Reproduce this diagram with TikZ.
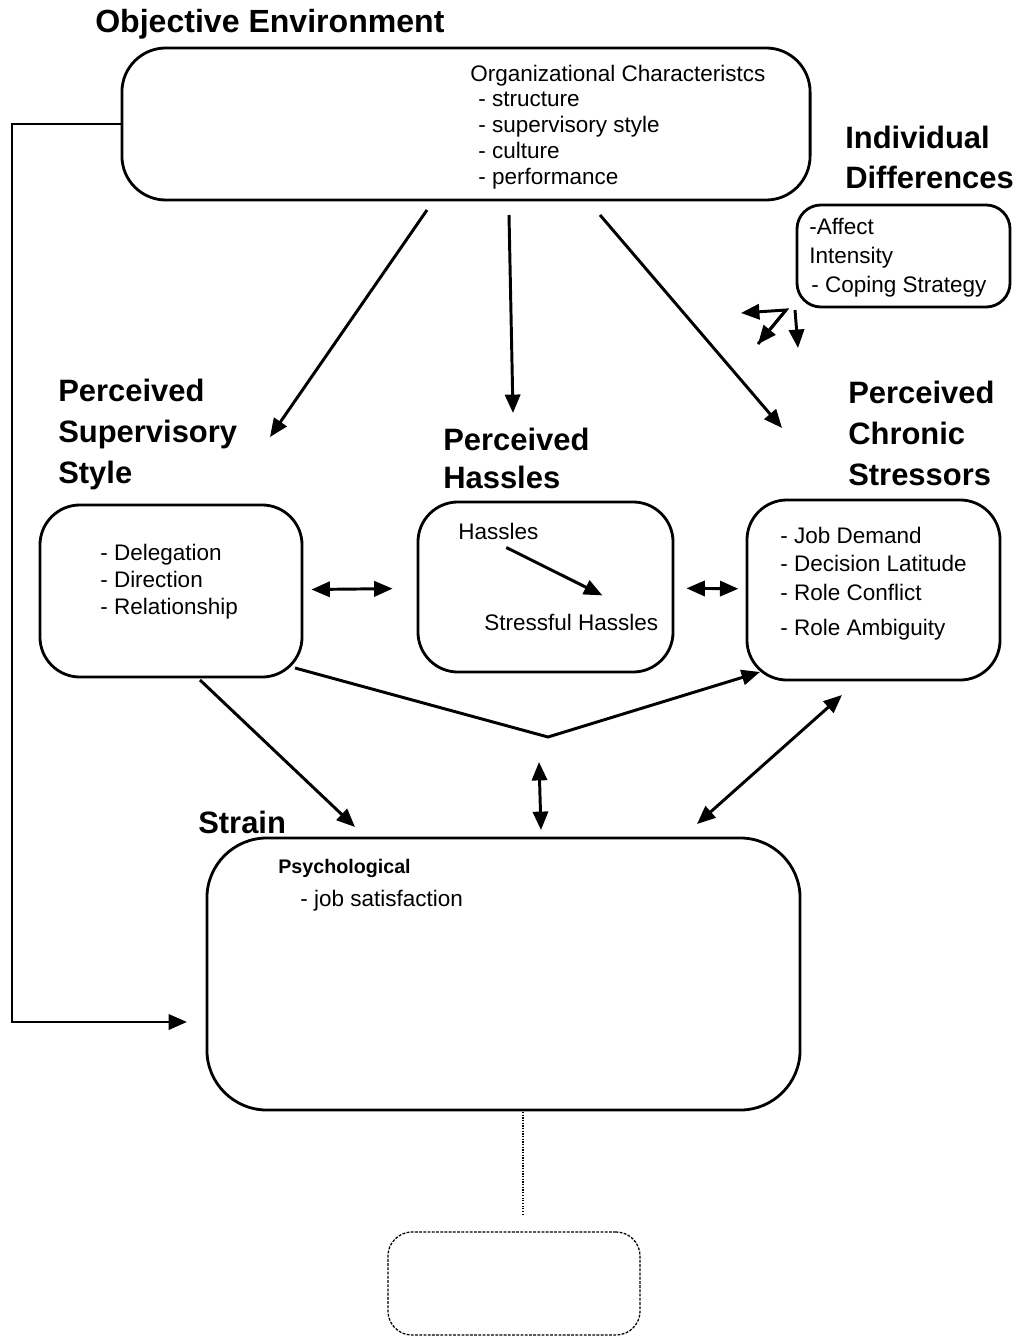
\documentclass[tikz,border=0pt]{standalone}
\usepackage{fontspec}
\setmainfont{Liberation Sans}
\usetikzlibrary{arrows.meta,calc}
\tikzset{
  >={Triangle[length=4.6mm,width=3.8mm]},
  box/.style={draw,line width=2pt,rounded corners=#1,inner sep=0pt},
  box/.default=1cm,
  title/.style={anchor=base west,inner sep=0pt,font=\fontsize{22}{26}\selectfont\bfseries},
  item/.style={anchor=base west,inner sep=0pt,font=\fontsize{16}{19}\selectfont},
  flow/.style={->,line width=2.1pt},
  twoway/.style={<->,line width=2.1pt},
}

\begin{document}
\begin{tikzpicture}[x=0.025cm,y=-0.025cm]
  \useasboundingbox (0,0) rectangle (1027,1338);
  % boxes
  \node[box=1.1cm,minimum width=17.2cm,minimum height=3.8cm] (objenv) at (466,124) {};
  \node[box=0.6cm,minimum width=5.325cm,minimum height=2.55cm] (indiv) at (903.5,256) {};
  \node[box,minimum width=6.55cm,minimum height=4.3cm] (sup) at (171,591) {};
  \node[box,minimum width=6.375cm,minimum height=4.25cm] (has) at (545.5,587) {};
  \node[box,minimum width=6.325cm,minimum height=4.5cm] (chr) at (873.5,590) {};
  \node[box=1.5cm,minimum width=14.825cm,minimum height=6.8cm] (strain) at (503.5,974) {};
  \node[box=0.6cm,densely dotted,line width=0.9pt,minimum width=6.3cm,minimum height=2.575cm] (next) at (514,1283.5) {};
  % titles
  \node[title,font=\fontsize{22.8}{26}\selectfont\bfseries] (tobj) at (95,33) {Objective Environment};
  \node[title] (tind1) at (845,149) {Individual};
  \node[title] (tind2) at (845,189) {Differences};
  \foreach \t [count=\i] in {Perceived,Supervisory,Style}
    \node[title] (tsup\i) at (58,{360+41*\i}) {\t};
  \foreach \t [count=\i] in {Perceived,Hassles}
    \node[title] (thas\i) at (443,{412+38*\i}) {\t};
  \foreach \t [count=\i] in {Perceived,Chronic,Stressors}
    \node[title] (tchr\i) at (848,{362+41*\i}) {\t};
  \node[title] (tstr) at (198,833) {Strain};
  % contents
  \node[item] (oc) at (470,82) {Organizational Characteristcs};
  \foreach \t [count=\i] in {structure,supervisory style,culture,performance}
    \node[item] (oc\i) at (478,{81+26*\i}) {- \t};
  \node[item] (id1) at (809,235) {-Affect};
  \node[item] (id2) at (809,264) {Intensity};
  \node[item] (id3) at (811,293) {- Coping Strategy};
  \foreach \t [count=\i] in {Delegation,Direction,Relationship}
    \node[item] (ps\i) at (100,{533+27*\i}) {- \t};
  \node[item] (hs1) at (458,539) {Hassles};
  \node[item] (hs2) at (484,630) {Stressful Hassles};
  \node[item] (cs1) at (780,543) {- Job Demand};
  \node[item] (cs2) at (780,571) {- Decision Latitude};
  \node[item] (cs3) at (780,600) {- Role Conflict};
  \node[item] (cs4) at (780,635) {- Role Ambiguity};
  \node[item,font=\fontsize{14}{17}\selectfont\bfseries] (psy) at (278,873) {Psychological};
  \node[item] (jobsat) at (300,906) {- job satisfaction};
  % free ends
  \coordinate (a1) at (427,210);  \coordinate (b1) at (270,437);
  \coordinate (a2) at (509,215);  \coordinate (b2) at (513,413);
  \coordinate (a3) at (600,215);  \coordinate (b3) at (782,428);
  \coordinate (k) at (786,310);   \coordinate (kl) at (741,313);
  \coordinate (kd) at (758,344);  \coordinate (d0) at (795,310);
  \coordinate (d1) at (798,348);
  \coordinate (lb) at (12,1022);  \coordinate (la) at (187,1022);
  \coordinate (v0) at (295,668);  \coordinate (v1) at (548,737);
  \coordinate (v2) at (760,672);
  \coordinate (s0) at (200,680);  \coordinate (s1) at (355,827);
  \coordinate (m0) at (539,762);  \coordinate (m1) at (541,830);
  \coordinate (c0) at (842,695);  \coordinate (c1) at (697,824);
  \coordinate (n0) at (523,1112); \coordinate (n1) at (523,1215);
  % connectors
  \draw[flow] (objenv.west) -| (lb) -- (la);
  \draw[flow] (a1) -- (b1);
  \draw[flow] (a2) -- (b2);
  \draw[flow] (a3) -- (b3);
  \draw[flow] (kd) -- (k) -- (kl);
  \draw[flow,<-] (kd) -- (k);
  \draw[flow] (d0) -- (d1);
  \draw[twoway,shorten <=2mm,shorten >=6mm] (sup) -- (has);
  \draw[twoway,shorten <=3mm,shorten >=1.8mm] (has) -- (chr);
  \draw[flow] ([xshift=0.2cm,yshift=-0.2cm]hs1.south) -- ([xshift=0.78cm,yshift=0.45cm]hs2.north);
  \draw[flow] (v0) -- (v1) -- (v2);
  \draw[flow] (s0) -- (s1);
  \draw[twoway] (m0) -- (m1);
  \draw[twoway] (c0) -- (c1);
  \draw[densely dotted,line width=0.9pt] (n0) -- (n1);
\end{tikzpicture}
\end{document}
